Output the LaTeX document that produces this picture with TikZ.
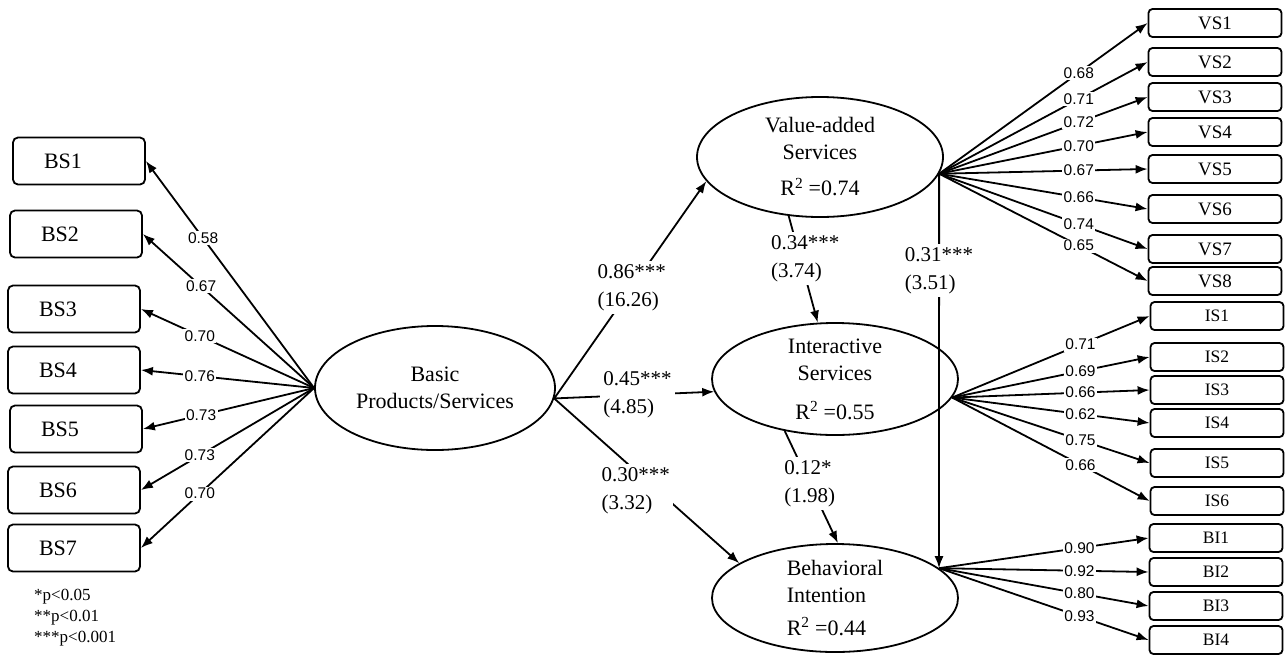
\documentclass[tikz,border=0pt]{standalone}
\usepackage{fontspec}
\setmainfont{Liberation Serif}
\newfontfamily\loadfont{Liberation Sans}
\usetikzlibrary{shapes.geometric,arrows.meta}

\begin{document}
\begin{tikzpicture}[x=1pt,y=-1pt,line width=1.8pt,
    obs/.style={draw,rounded corners=5pt,inner xsep=31pt,text width=70pt,align=left,minimum height=47pt,font=\fontsize{22}{24}\selectfont},
    vbox/.style={draw,rounded corners=4pt,inner sep=0pt,minimum width=133pt,minimum height=28pt,font=\fontsize{19}{20}\selectfont},
    ibox/.style={vbox,font=\fontsize{17.5}{19}\selectfont},
    lat/.style={draw,ellipse,inner xsep=0pt,inner ysep=-14pt,align=center,font=\fontsize{22}{27}\selectfont},
    ld/.style={fill=white,inner sep=1.5pt,font=\loadfont\fontsize{15.5}{17}\selectfont},
    coef/.style={fill=white,inner sep=3pt,align=left,font=\fontsize{21}{28}\selectfont},
    arr/.style={-{Latex[length=12pt,width=9pt]}}]
  \useasboundingbox (0,0) rectangle (1285,654);

  \node[obs] (bs1) at (79,161) {BS1};
  \node[obs] (bs2) at (76,234) {BS2};
  \node[obs] (bs3) at (74,309) {BS3};
  \node[obs] (bs4) at (74,370) {BS4};
  \node[obs] (bs5) at (76,429) {BS5};
  \node[obs] (bs6) at (74,490) {BS6};
  \node[obs] (bs7) at (74,548) {BS7};

  \node[lat,minimum width=240pt,minimum height=124pt] (bp) at (435,388) {Basic\\Products/Services};
  \node[lat,minimum width=246pt,minimum height=120pt] (vs) at (820,157) {Value-added\\Services\\[9pt]R\textsuperscript{2} =0.74};
  \node[lat,minimum width=246pt,minimum height=112pt] (is) at (835,379) {Interactive\\Services\\[12pt]R\textsuperscript{2} =0.55};
  \node[lat,align=left,minimum width=246pt,minimum height=108pt] (bi) at (835,598) {Behavioral\\Intention\\[6pt]R\textsuperscript{2} =0.44};

  \node[vbox] (vs1) at (1215,23) {VS1};
  \node[vbox] (vs2) at (1215,62) {VS2};
  \node[vbox] (vs3) at (1215,97) {VS3};
  \node[vbox] (vs4) at (1215,132) {VS4};
  \node[vbox] (vs5) at (1215,169) {VS5};
  \node[vbox] (vs6) at (1215,209) {VS6};
  \node[vbox] (vs7) at (1215,249) {VS7};
  \node[vbox] (vs8) at (1215,281) {VS8};
  \node[ibox] (is1) at (1217,316) {IS1};
  \node[ibox] (is2) at (1217,357) {IS2};
  \node[ibox] (is3) at (1217,390) {IS3};
  \node[ibox] (is4) at (1217,423) {IS4};
  \node[ibox] (is5) at (1217,463) {IS5};
  \node[ibox] (is6) at (1217,501) {IS6};
  \node[ibox] (bi1) at (1216,538) {BI1};
  \node[ibox] (bi2) at (1216,572) {BI2};
  \node[ibox] (bi3) at (1216,606) {BI3};
  \node[ibox] (bi4) at (1216,640) {BI4};

  \coordinate (vsr) at (vs.-8);
  \coordinate (isr) at (is.-9);
  \coordinate (bir) at (bi.16);

  \draw[arr] (bp.west) -- node[ld,pos=0.66] (l1) {0.58} (bs1.east);
  \draw[arr] (bp.west) -- node[ld,pos=0.66] (l2) {0.67} (bs2.east);
  \draw[arr] (bp.west) -- node[ld,pos=0.66] (l3) {0.70} (bs3.east);
  \draw[arr] (bp.west) -- node[ld,pos=0.66] (l4) {0.76} (bs4.east);
  \draw[arr] (bp.west) -- node[ld,pos=0.66] (l5) {0.73} (bs5.east);
  \draw[arr] (bp.west) -- node[ld,pos=0.66] (l6) {0.73} (bs6.east);
  \draw[arr] (bp.west) -- node[ld,pos=0.66] (l7) {0.70} (bs7.east);

  \draw[arr] (vsr) -- node[ld,pos=0.67] (m1) {0.68} (vs1.west);
  \draw[arr] (vsr) -- node[ld,pos=0.67] (m2) {0.71} (vs2.west);
  \draw[arr] (vsr) -- node[ld,pos=0.67] (m3) {0.72} (vs3.west);
  \draw[arr] (vsr) -- node[ld,pos=0.67] (m4) {0.70} (vs4.west);
  \draw[arr] (vsr) -- node[ld,pos=0.67] (m5) {0.67} (vs5.west);
  \draw[arr] (vsr) -- node[ld,pos=0.67] (m6) {0.66} (vs6.west);
  \draw[arr] (vsr) -- node[ld,pos=0.67] (m7) {0.74} (vs7.west);
  \draw[arr] (vsr) -- node[ld,pos=0.67] (m8) {0.65} (vs8.west);

  \draw[arr] (isr) -- node[ld,pos=0.65] (n1) {0.71} (is1.west);
  \draw[arr] (isr) -- node[ld,pos=0.65] (n2) {0.69} (is2.west);
  \draw[arr] (isr) -- node[ld,pos=0.65] (n3) {0.66} (is3.west);
  \draw[arr] (isr) -- node[ld,pos=0.65] (n4) {0.62} (is4.west);
  \draw[arr] (isr) -- node[ld,pos=0.65] (n5) {0.75} (is5.west);
  \draw[arr] (isr) -- node[ld,pos=0.65] (n6) {0.66} (is6.west);

  \draw[arr] (bir) -- node[ld,pos=0.67] (o1) {0.90} (bi1.west);
  \draw[arr] (bir) -- node[ld,pos=0.67] (o2) {0.92} (bi2.west);
  \draw[arr] (bir) -- node[ld,pos=0.67] (o3) {0.80} (bi3.west);
  \draw[arr] (bir) -- node[ld,pos=0.67] (o4) {0.93} (bi4.west);

  \draw[arr] (bp.-5) -- node[coef,pos=0.51] (c1) {0.86***\\(16.26)} (vs.192);
  \draw[arr] (bp.-5) -- node[coef,pos=0.52] (c2) {0.45***\\(4.85)} (is.186);
  \draw[arr] (bp.-5) -- node[coef,pos=0.56,xshift=-22pt] (c3) {0.30***\\(3.32)} (bi.160);
  \draw[arr] (vs.242) -- node[coef,pos=0.4,xshift=5pt] (c4) {0.34***\\(3.74)} (is.107);
  \draw[arr] (is.226) -- node[coef,pos=0.47] (c5) {0.12*\\(1.98)} (bi.87);
  \draw[arr] (vsr) -- node[coef,pos=0.245] (c6) {0.31***\\(3.51)} (bir);

  \node[anchor=west,align=left,font=\fontsize{17}{21}\selectfont] (key) at (30,618) {*p<0.05\\**p<0.01\\***p<0.001};
\end{tikzpicture}
\end{document}
